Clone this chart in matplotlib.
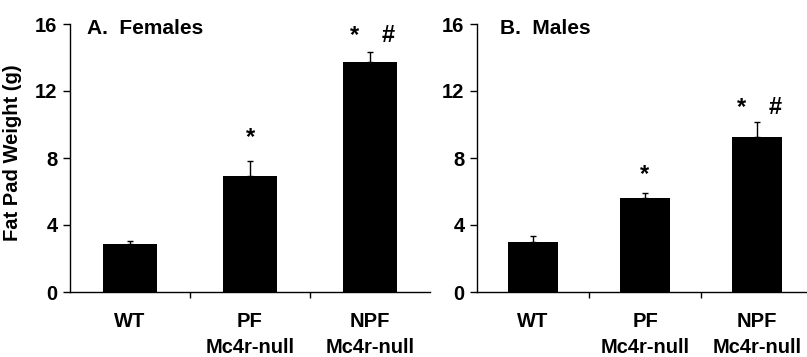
import matplotlib
matplotlib.use("Agg")
import matplotlib.pyplot as plt
import numpy as np

plt.rcParams['font.family'] = ['Liberation Sans', 'DejaVu Sans']
plt.rcParams['font.weight'] = 'bold'

categories = ["WT", "PF\nMc4r-null", "NPF\nMc4r-null"]
females = [2.86, 6.9, 13.76]
females_err = [0.18, 0.91, 0.54]
males = [2.98, 5.59, 9.24]
males_err = [0.38, 0.31, 0.88]
yticks = [0, 4, 8, 12, 16]
titles = ["A.  Females", "B.  Males"]
ylabel = "Fat Pad Weight (g)"
# significance marks: (category index, x offset, y, text)
marks_f = [(1, 0.0, 9.25, "*"), (2, -0.13, 15.3, "*"), (2, 0.15, 15.3, "#")]
marks_m = [(1, 0.0, 7.0, "*"), (2, -0.14, 11.0, "*"), (2, 0.16, 11.0, "#")]

W, H = 807, 357
fig = plt.figure(figsize=(W/100, H/100), dpi=100)

def make_axes(x0, x1, xmax):
    ax = fig.add_axes([x0/W, 65/H, (x1-x0)/W, 268/H])
    ax.set_xlim(-0.5, xmax)
    ax.set_ylim(0, 16)
    return ax

axA = make_axes(70, 430, 2.5)
axB = make_axes(477, 807, -0.5 + 330/112)

FS = 14.5
for ax, vals, errs, title, marks in [(axA, females, females_err, titles[0], marks_f),
                                      (axB, males, males_err, titles[1], marks_m)]:
    x = np.arange(len(categories))
    ax.bar(x, vals, width=0.45, color='black', zorder=2)
    ax.errorbar(x, vals, yerr=[np.zeros(len(vals)), errs], fmt='none',
                ecolor='black', elinewidth=1.0, capsize=2.5, capthick=1.0, zorder=3)
    ax.spines['top'].set_visible(False)
    ax.spines['right'].set_visible(False)
    ax.spines['left'].set_linewidth(1.0)
    ax.spines['bottom'].set_linewidth(1.0)
    ax.set_yticks(yticks)
    ax.set_yticklabels([str(t) for t in yticks], fontsize=FS, fontweight='bold')
    ax.tick_params(axis='y', direction='out', length=5, width=1.0, pad=4)
    ax.set_xticks([0.5, 1.5])
    ax.set_xticklabels([])
    ax.tick_params(axis='x', direction='out', length=4, width=1.0)
    for i, c in enumerate(categories):
        lines = c.split("\n")
        ax.text(i, -1.75, lines[0], ha='center', va='center', fontsize=FS,
                fontweight='bold', transform=ax.transData, clip_on=False)
        if len(lines) > 1:
            ax.text(i, -3.3, lines[1], ha='center', va='center', fontsize=FS,
                    fontweight='bold', transform=ax.transData, clip_on=False)
    ax.text(0.047 if ax is axA else 0.07, 0.985, title, transform=ax.transAxes,
            ha='left', va='center', fontsize=15, fontweight='bold')
    for ci, dx, yy, t in marks:
        ax.text(ci + dx, yy, t, ha='center', va='center', fontsize=17,
                fontweight='bold')

axA.set_ylabel(ylabel, fontsize=FS, fontweight='bold')
axA.yaxis.set_label_coords(-48/360, 0.52)

fig.savefig("out.png", dpi=100)
